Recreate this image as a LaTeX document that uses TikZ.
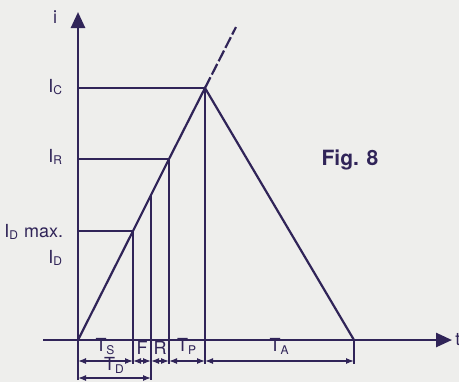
\documentclass[tikz,border=0pt]{standalone}
\usepackage{fontspec}
\setmainfont{TeX Gyre Heros}
\usetikzlibrary{arrows.meta}
\definecolor{ink}{RGB}{48,36,88}
\definecolor{paper}{RGB}{238,238,236}

\begin{document}
\begin{tikzpicture}[x=0.5pt,y=-0.5pt,line width=0.9pt,ink,
  >={Latex[length=4pt,width=3pt]},
  lbl/.style={font=\fontsize{9}{10}\selectfont,inner sep=1pt},
  axis/.style={line width=1.3pt,-{Triangle[length=8pt,width=7pt]}},
  guide/.style={line width=0.55pt},
  dim/.style={<->,line width=0.6pt}]
  \fill[paper] (0,0) rectangle (459,382);
  \useasboundingbox (0,0) rectangle (459,382);
  % axes
  \coordinate (O) at (78,340);
  \coordinate (xs) at (43,340);
  \coordinate (xe) at (452,340);
  \coordinate (yb) at (78,380);
  \coordinate (ye) at (78,12);
  \draw[axis] (xs) -- (xe) node[lbl,right]{t};
  \draw[axis] (yb) -- (ye);
  \node[lbl,anchor=base east] (i) at (60,23) {i};
  % current curve
  \coordinate (A) at (133,231);
  \coordinate (B) at (151,195);
  \coordinate (R) at (169,159);
  \coordinate (P) at (205,88);
  \coordinate (Q) at (236,27);
  \coordinate (E) at (354,340);
  \draw[line width=1.1pt] (O) -- (A) -- (B) -- (R) -- (P) -- (E);
  \draw[line width=1.1pt,dash pattern=on 6pt off 1.5pt] (P) -- (Q);
  % levels
  \draw[line width=0.8pt] (O |- P) -- (P);
  \draw[line width=0.8pt] (O |- R) -- (R);
  \draw[line width=0.8pt] (O |- A) -- (A);
  \node[lbl,anchor=base east] (Ic) at (66,92) {I\textsubscript{C}};
  \node[lbl,anchor=base east] (Ir) at (66,162) {I\textsubscript{R}};
  \node[lbl,anchor=base east] (Im) at (66,237) {I\textsubscript{D} max.};
  \node[lbl,anchor=base east] (Id) at (66,263) {I\textsubscript{D}};
  % time marks
  \foreach \p in {A,R,P} \draw[guide] (\p) -- (\p |- 0,364);
  \draw[guide] (B) -- (B |- 0,380);
  \draw[guide] (E) -- (E |- 0,364);
  \draw[dim] (O |- 0,361) -- (A |- 0,361) node[lbl,midway,above=2pt]{T\textsubscript{S}};
  \draw[dim] (A |- 0,361) -- (B |- 0,361) node[lbl,midway,above=2pt]{F};
  \draw[dim] (B |- 0,361) -- (R |- 0,361) node[lbl,midway,above=2pt]{R};
  \draw[dim] (R |- 0,361) -- (P |- 0,361) node[lbl,midway,above=2pt]{T\textsubscript{P}};
  \draw[dim] (P |- 0,361) -- (E |- 0,361) node[lbl,midway,above=2pt]{T\textsubscript{A}};
  \draw[dim] (O |- 0,378) -- (B |- 0,378) node[lbl,midway,above=1pt]{T\textsubscript{D}};
  \node[font=\fontsize{10.5}{12}\selectfont\bfseries,anchor=base] (fig) at (350,165) {Fig. 8};
\end{tikzpicture}
\end{document}
